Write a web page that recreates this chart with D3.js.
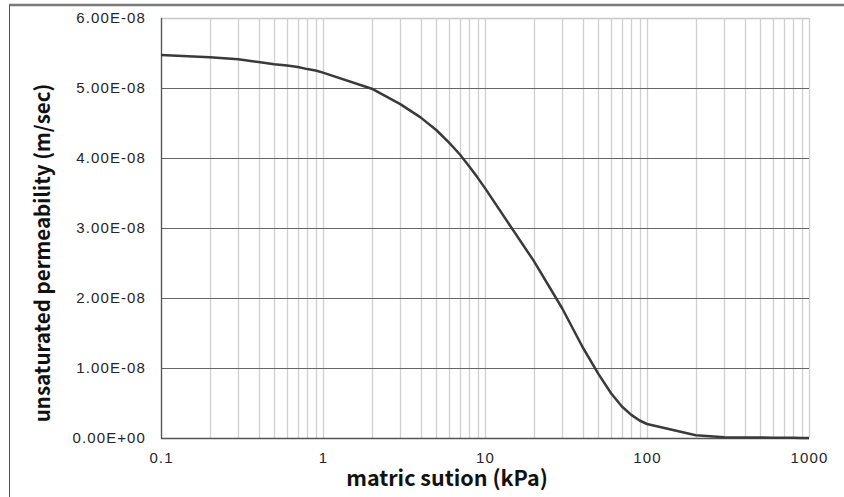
<!DOCTYPE html>
<html>
<head>
<meta charset="utf-8">
<script src="https://cdn.jsdelivr.net/npm/d3@7"></script>
<style>
  body { margin: 0; background: #fff; }
  svg { display: block; }
</style>
</head>
<body>
<svg width="844" height="497"></svg>
<script>
  // matric suction (kPa) and unsaturated permeability (x 1E-08 m/sec)
  const suction = [0.1, 0.2, 0.3, 0.4, 0.5, 0.6, 0.7, 0.8, 0.9, 1,
    2, 3, 4, 5, 6, 7, 8, 9, 10,
    20, 30, 40, 50, 60, 70, 80, 90, 100,
    200, 300, 400, 500, 600, 700, 800, 900, 1000];
  const permeability = [5.47, 5.44, 5.41, 5.37, 5.34, 5.32, 5.30, 5.27, 5.25, 5.22,
    4.99, 4.77, 4.58, 4.40, 4.22, 4.05, 3.88, 3.72, 3.57,
    2.53, 1.85, 1.30, 0.92, 0.64, 0.45, 0.33, 0.25, 0.20,
    0.04, 0.012, 0.008, 0.006, 0.004, 0.003, 0.002, 0.001, 0.0];
  const xTicks = [0.1, 1, 10, 100, 1000];
  const yTicks = [0, 1e-8, 2e-8, 3e-8, 4e-8, 5e-8, 6e-8];

  const data = suction.map((s, i) => ({ s, k: permeability[i] * 1e-8 }));

  const svg = d3.select("svg");
  const plotL = 161, plotR = 809, plotT = 18, plotB = 438;

  const x = d3.scaleLog().domain([0.1, 1000]).range([plotL, plotR]);
  const y = d3.scaleLinear().domain([0, 6e-8]).range([plotB, plotT]);

  // "6.00E-08" style
  const fmt = v => {
    if (v === 0) return "0.00E+00";
    const [m, e] = v.toExponential(2).split("e");
    const n = +e;
    return m + "E" + (n < 0 ? "-" : "+") + String(Math.abs(n)).padStart(2, "0");
  };

  // outer frame pieces
  svg.append("line").attr("x1", 9).attr("x2", 844).attr("y1", 5).attr("y2", 5)
    .attr("stroke", "#7a7a7a").attr("stroke-width", 2.5);
  svg.append("line").attr("x1", 9.5).attr("x2", 9.5).attr("y1", 5).attr("y2", 497)
    .attr("stroke", "#555").attr("stroke-width", 1);

  // vertical minor grid
  const minor = [];
  for (let d = 0.1; d < 1000; d *= 10) {
    for (let m = 1; m <= 9; m++) minor.push(+(d * m).toPrecision(3));
  }
  minor.push(1000);
  svg.append("g").selectAll("line").data(minor).join("line")
    .attr("x1", d => Math.round(x(d)) + 0.5).attr("x2", d => Math.round(x(d)) + 0.5)
    .attr("y1", plotT).attr("y2", plotB)
    .attr("stroke", "#d0d0d0").attr("stroke-width", 1.3);

  // top border light
  svg.append("line").attr("x1", plotL).attr("x2", plotR).attr("y1", plotT + 0.5).attr("y2", plotT + 0.5)
    .attr("stroke", "#c8c8c8").attr("stroke-width", 1.3);

  // horizontal grid
  svg.append("g").selectAll("line").data(yTicks.slice(1, -1)).join("line")
    .attr("x1", plotL).attr("x2", plotR)
    .attr("y1", d => Math.round(y(d)) + 0.5).attr("y2", d => Math.round(y(d)) + 0.5)
    .attr("stroke", "#666").attr("stroke-width", 1.2);

  // axes lines
  svg.append("line").attr("x1", plotL + 0.5).attr("x2", plotL + 0.5).attr("y1", plotT).attr("y2", plotB + 1)
    .attr("stroke", "#555").attr("stroke-width", 1.3);
  svg.append("line").attr("x1", plotL).attr("x2", plotR).attr("y1", plotB + 0.5).attr("y2", plotB + 0.5)
    .attr("stroke", "#555").attr("stroke-width", 1.3);

  // tick labels
  const tickFont = "'Liberation Sans', Arial, sans-serif";
  svg.append("g").selectAll("text").data(yTicks).join("text")
    .attr("x", 146).attr("y", d => y(d)).attr("dy", "0.36em")
    .attr("text-anchor", "end")
    .attr("font-family", tickFont).attr("font-size", 15)
    .attr("letter-spacing", 1.1)
    .attr("fill", "#262626")
    .text(fmt);

  svg.append("g").selectAll("text").data(xTicks).join("text")
    .attr("x", d => x(d) + 0.5).attr("y", 463)
    .attr("text-anchor", "middle")
    .attr("font-family", tickFont).attr("font-size", 15)
    .attr("letter-spacing", 1.1)
    .attr("fill", "#262626")
    .text(d => d3.format("~g")(d));

  // curve
  const line = d3.line().x(d => x(d.s)).y(d => y(d.k));
  svg.append("path").datum(data)
    .attr("d", line)
    .attr("fill", "none").attr("stroke", "#3a3a3a").attr("stroke-width", 2.5)
    .attr("stroke-linejoin", "round");

  // axis titles
  svg.append("text")
    .attr("x", 447).attr("y", 486)
    .attr("text-anchor", "middle")
    .attr("font-family", "'Noto Sans CJK KR', 'Noto Sans', sans-serif")
    .attr("font-weight", "bold").attr("font-size", 21.5)
    .attr("fill", "#111")
    .text("matric sution (kPa)");

  svg.append("text")
    .attr("transform", "translate(50,253) rotate(-90)")
    .attr("text-anchor", "middle")
    .attr("font-family", "'Noto Sans CJK KR', 'Noto Sans', sans-serif")
    .attr("font-weight", "bold").attr("font-size", 20.5)
    .attr("fill", "#111")
    .text("unsaturated permeability (m/sec)");
</script>
</body>
</html>
